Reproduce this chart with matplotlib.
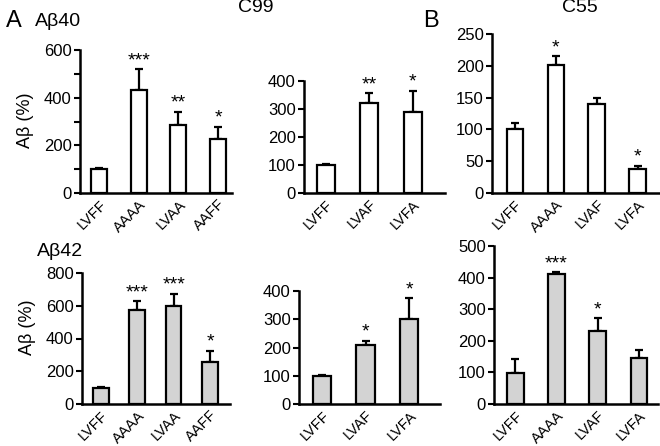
import matplotlib
matplotlib.use("Agg")
import matplotlib.pyplot as plt

plt.rcParams['font.family'] = ['Liberation Sans', 'DejaVu Sans']

# data (Abeta %, mean and upper error)
c99_labels_a = ["LVFF", "AAAA", "LVAA", "AAFF"]
c99_labels_b = ["LVFF", "LVAF", "LVFA"]
c55_labels = ["LVFF", "AAAA", "LVAF", "LVFA"]

ab40_c99a = [100, 432, 285, 226]
ab40_c99a_err = [5, 87, 55, 53]
ab40_c99a_sig = ["", "***", "**", "*"]

ab40_c99b = [100, 320, 291]
ab40_c99b_err = [2, 36, 75]
ab40_c99b_sig = ["", "**", "*"]

ab40_c55 = [100, 201, 140, 37]
ab40_c55_err = [10, 14, 10, 6]
ab40_c55_sig = ["", "*", "", "*"]

ab42_c99a = [100, 571, 596, 257]
ab42_c99a_err = [4, 56, 77, 67]
ab42_c99a_sig = ["", "***", "***", "*"]

ab42_c99b = [99, 209, 300]
ab42_c99b_err = [4, 15, 75]
ab42_c99b_sig = ["", "*", "*"]

ab42_c55 = [99, 412, 232, 145]
ab42_c55_err = [42, 5, 40, 26]
ab42_c55_sig = ["", "***", "*", ""]

W, H = 660, 446
fig = plt.figure(figsize=(W / 100, H / 100), dpi=100)


def panel(px_left, px_right, px_top, px_bottom, labels, vals, errs, sigs,
          ymax, yticks, xlim, color, width, minor=None):
    ax = fig.add_axes([px_left / W, 1 - px_bottom / H,
                       (px_right - px_left) / W, (px_bottom - px_top) / H])
    x = list(range(len(labels)))
    ax.bar(x, vals, width=width, color=color, edgecolor='black', linewidth=1.6,
           zorder=2)
    ax.errorbar(x, vals, yerr=[[0] * len(errs), errs], fmt='none',
                ecolor='black', elinewidth=1.6, capsize=3, capthick=1.6, zorder=1)
    for xi, v, e, s in zip(x, vals, errs, sigs):
        if s:
            ax.annotate(s, (xi, v + e), xytext=(0, 0), textcoords='offset points',
                        ha='center', va='bottom', fontsize=14)
    ax.set_ylim(0, ymax)
    ax.set_xlim(*xlim)
    ax.set_yticks(yticks)
    if minor is not None:
        ax.set_yticks(minor, minor=True)
    ax.tick_params(axis='y', which='both', direction='out', length=4, width=1.5,
                   labelsize=12, pad=2)
    ax.set_xticks(x)
    ax.set_xticklabels(labels, rotation=45, ha='right', rotation_mode='anchor',
                       fontsize=10.5)
    ax.tick_params(axis='x', length=0, pad=3)
    for sp in ['top', 'right']:
        ax.spines[sp].set_visible(False)
    for sp in ['left', 'bottom']:
        ax.spines[sp].set_linewidth(1.8)
    ax.patch.set_alpha(0)
    return ax


white = 'white'
gray = '#d3d3d3'

# top row: Abeta40
panel(80, 232, 50, 193, c99_labels_a, ab40_c99a, ab40_c99a_err, ab40_c99a_sig,
      600, [0, 200, 400, 600], (-0.48, 3.35), white, 0.4, minor=[100, 300, 500])
panel(304, 445, 81, 193, c99_labels_b, ab40_c99b, ab40_c99b_err, ab40_c99b_sig,
      400, [0, 100, 200, 300, 400], (-0.5, 2.74), white, 0.42)
panel(492, 660, 34, 193, c55_labels, ab40_c55, ab40_c55_err, ab40_c55_sig,
      250, [0, 50, 100, 150, 200, 250], (-0.56, 3.54), white, 0.41)

# bottom row: Abeta42
panel(82, 230, 273, 404, c99_labels_a, ab42_c99a, ab42_c99a_err, ab42_c99a_sig,
      800, [0, 200, 400, 600, 800], (-0.52, 3.55), gray, 0.43)
panel(299, 440, 291, 404, c99_labels_b, ab42_c99b, ab42_c99b_err, ab42_c99b_sig,
      400, [0, 100, 200, 300, 400], (-0.53, 2.71), gray, 0.42)
panel(494, 658, 246, 404, c55_labels, ab42_c55, ab42_c55_err, ab42_c55_sig,
      500, [0, 100, 200, 300, 400, 500], (-0.51, 3.46), gray, 0.41)


def ftext(px, py, s, size, **kw):
    fig.text(px / W, 1 - py / H, s, fontsize=size, va='center', **kw)


ftext(6, 21, "A", 17)
ftext(35, 21, "Aβ40", 14)
ftext(238, 8, "C99", 14)
ftext(423, 21, "B", 17)
ftext(562, 8, "C55", 14)
ftext(37, 252, "Aβ42", 14)
ftext(25, 120, "Aβ (%)", 13, rotation=90, ha='center')
ftext(28, 327, "Aβ (%)", 13, rotation=90, ha='center')

fig.savefig("out.png", dpi=100)
